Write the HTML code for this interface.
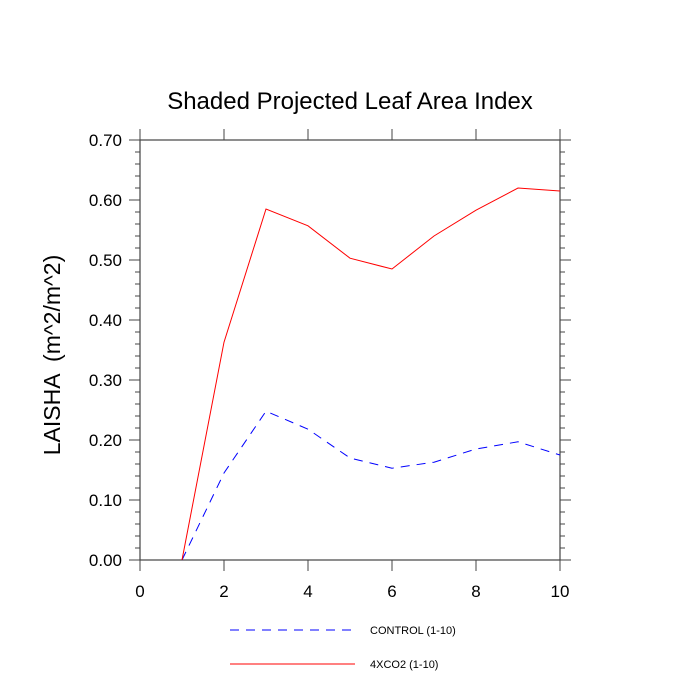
<!DOCTYPE html>
<html><head><meta charset="utf-8"><style>body{margin:0;background:#fff}svg{display:block;font-family:"Liberation Sans",sans-serif}</style></head>
<body>
<svg id="c" width="700" height="700">
<text x="350" y="109" font-size="24" text-anchor="middle">Shaded Projected Leaf Area Index</text>
<text transform="translate(60,355) rotate(-90)" font-size="23" text-anchor="middle" xml:space="preserve">LAISHA  (m^2/m^2)</text>
<g id="axes"></g><g id="series"></g>
<g>
<line x1="230" y1="630" x2="355" y2="630" stroke="#00f" stroke-dasharray="9,7"/>
<text x="370" y="634" font-size="11">CONTROL (1-10)</text>
<line x1="230" y1="664" x2="355" y2="664" stroke="#f00"/>
<text x="370" y="668" font-size="11">4XCO2 (1-10)</text>
</g>
</svg>
<script>
const xs=[1,2,3,4,5,6,7,8,9,10];
const control=[0,0.145,0.248,0.218,0.170,0.153,0.163,0.185,0.197,0.175];
const co2=[0,0.363,0.585,0.557,0.503,0.485,0.540,0.583,0.620,0.615];
const xTicks=[0,2,4,6,8,10];
const yTicks=[0,0.1,0.2,0.3,0.4,0.5,0.6,0.7];
const L=140,R=560,T=140,B=560;
const X=v=>L+(v-0)/10*(R-L), Y=v=>B-(v/0.7)*(B-T);
const NS="http://www.w3.org/2000/svg";
function mk(p,t,a){const e=document.createElementNS(NS,t);for(const k in a)e.setAttribute(k,a[k]);p.appendChild(e);return e;}
const ax=document.getElementById('axes'),col="#444";
const fr=mk(ax,'rect',{x:L,y:T,width:R-L,height:B-T,fill:'none',stroke:col,'stroke-width':1.2});


for(let i=0;i<=35;i++){const v=i*0.02,y=Y(v),len=i%5==0?11:5;
 mk(ax,'line',{x1:L-len,y1:y,x2:L,y2:y,stroke:col});mk(ax,'line',{x1:R,y1:y,x2:R+len,y2:y,stroke:col});}
xTicks.forEach(v=>{const x=X(v);
 mk(ax,'line',{x1:x,y1:B,x2:x,y2:B+11,stroke:col});mk(ax,'line',{x1:x,y1:T-11,x2:x,y2:T,stroke:col});});
yTicks.forEach(v=>{const t=mk(ax,'text',{x:L-18,y:Y(v)+6,'font-size':17,'text-anchor':'end'});t.textContent=v.toFixed(2);
 
 });
xTicks.forEach(v=>{const t=mk(ax,'text',{x:X(v),y:B+37,'font-size':17,'text-anchor':'middle'});t.textContent=v;
 
 });
const s=document.getElementById('series');
const pc=mk(s,'polyline',{points:xs.map((x,i)=>X(x)+','+Y(control[i])).join(' '),fill:'none',stroke:'#00f','stroke-dasharray':'9,7'});


const pr=mk(s,'polyline',{points:xs.map((x,i)=>X(x)+','+Y(co2[i])).join(' '),fill:'none',stroke:'#f00'});


</script>
</body></html>
